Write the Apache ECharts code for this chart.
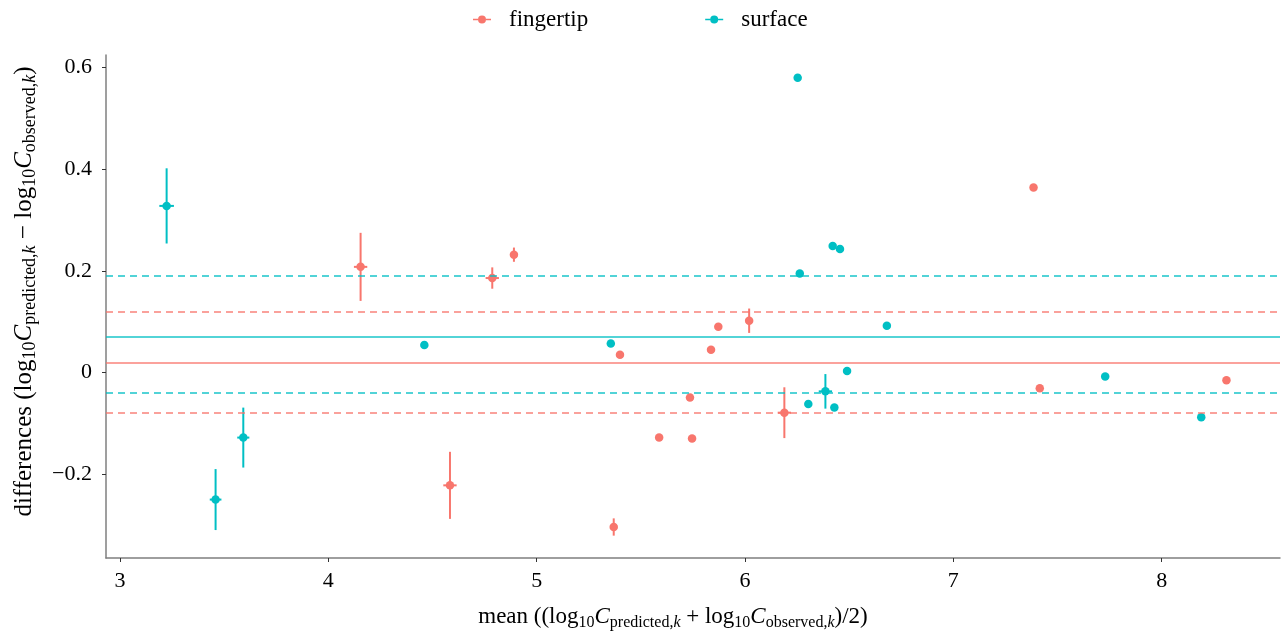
<!DOCTYPE html>
<html>
<head>
<meta charset="utf-8">
<script src="https://cdn.jsdelivr.net/npm/echarts@6/dist/echarts.min.js"></script>
<style>html,body{margin:0;padding:0;background:#fff}#c{width:1285px;height:636px}</style>
</head>
<body>
<div id="c"></div>
<script>
// ---- data ----
const fingertipX    = [4.155, 4.584, 4.787, 4.891, 5.370, 5.400, 5.588, 5.736, 5.746, 5.837, 5.872, 6.020, 6.189, 7.385, 7.415, 8.311];
const fingertipY    = [0.208, -0.222, 0.186, 0.232, -0.304, 0.035, -0.128, -0.049, -0.130, 0.045, 0.090, 0.102, -0.079, 0.364, -0.031, -0.015];
const fingertipYErr = [0.067, 0.066, 0.021, 0.014, 0.017, 0, 0, 0, 0, 0, 0, 0.024, 0.050, 0, 0, 0];
const fingertipXErr = [0.032, 0.032, 0.032, 0, 0, 0, 0, 0, 0, 0, 0, 0, 0.032, 0, 0, 0];

const surfaceX    = [3.224, 3.459, 3.592, 4.461, 5.356, 6.253, 6.263, 6.304, 6.386, 6.421, 6.429, 6.456, 6.490, 6.681, 7.729, 8.190];
const surfaceY    = [0.328, -0.250, -0.128, 0.054, 0.057, 0.580, 0.195, -0.062, -0.037, 0.249, -0.069, 0.243, 0.003, 0.092, -0.008, -0.088];
const surfaceYErr = [0.074, 0.060, 0.059, 0.006, 0, 0, 0, 0, 0.034, 0, 0, 0, 0, 0, 0, 0];
const surfaceXErr = [0.035, 0.028, 0.029, 0, 0, 0, 0, 0, 0.032, 0, 0, 0, 0, 0, 0, 0];

// mean, lower limit, upper limit of agreement
const fingertipLines = [0.020, -0.077, 0.116];
const surfaceLines   = [0.074, -0.039, 0.186];

const xTicks = [3, 4, 5, 6, 7, 8];
const yTicks = [-0.2, 0, 0.2, 0.4, 0.6];

const seriesNames = ['fingertip', 'surface'];
const colors = ['#F8766D', '#00BFC4'];

// ---- build ----
function pts(xs, ys) { return xs.map((x, i) => [x, ys[i]]); }
function errs(xs, ys, ye, xe) { return xs.map((x, i) => [x, ys[i], ye[i], xe[i]]); }

function errSeries(name, color, data) {
  return {
    name: name, type: 'custom', z: 2, silent: true,
    data: data,
    renderItem: function (params, api) {
      const x = api.value(0), y = api.value(1), ye = api.value(2), xe = api.value(3);
      const ch = [];
      if (ye > 0) {
        const a = api.coord([x, y - ye]), b = api.coord([x, y + ye]);
        ch.push({type: 'line', shape: {x1: a[0], y1: a[1], x2: b[0], y2: b[1]}, style: {stroke: color, lineWidth: 2}});
      }
      if (xe > 0) {
        const a = api.coord([x - xe, y]), b = api.coord([x + xe, y]);
        ch.push({type: 'line', shape: {x1: a[0], y1: a[1], x2: b[0], y2: b[1]}, style: {stroke: color, lineWidth: 2}});
      }
      return {type: 'group', children: ch};
    }
  };
}

function refLines(vals, color) {
  return {
    silent: true, symbol: 'none', animation: false,
    label: {show: false},
    data: vals.map((v, i) => ({
      yAxis: v,
      lineStyle: {color: color, width: 1.6, type: i === 0 ? 'solid' : [7, 5], opacity: 0.9}
    }))
  };
}

const font = 'Liberation Serif';
function richSet(main, sub, lh) {
  return {
    n: {fontFamily: font, fontSize: main, lineHeight: lh, color: '#000', verticalAlign: 'middle'},
    i: {fontFamily: font, fontSize: main, lineHeight: lh, color: '#000', fontStyle: 'italic', verticalAlign: 'middle'},
    s: {fontFamily: font, fontSize: sub, lineHeight: sub, color: '#000', verticalAlign: 'bottom'},
    si: {fontFamily: font, fontSize: sub, lineHeight: sub, color: '#000', fontStyle: 'italic', verticalAlign: 'bottom'}
  };
}

const legendIcon = 'path://M0,4.2H5V5.8H0Z M13,4.2H18V5.8H13Z M5,5a4,4 0 1,0 8,0a4,4 0 1,0 -8,0Z';

const option = {
  animation: false,
  backgroundColor: '#fff',
  grid: {left: 106, right: 5, top: 55, bottom: 78, containLabel: false},
  legend: {
    left: 468, top: 3,
    itemWidth: 18, itemHeight: 9, itemGap: 117,
    textStyle: {fontFamily: font, fontSize: 23, color: '#000', padding: [0, 0, 0, 13]},
    data: seriesNames.map((n, i) => ({name: n, icon: legendIcon, itemStyle: {color: colors[i]}}))
  },
  xAxis: {
    type: 'value', min: 2.933, max: 8.568,
    splitLine: {show: false},
    axisLine: {onZero: false, lineStyle: {color: '#7f7f7f', width: 1.5}},
    axisTick: {show: true, length: 4, lineStyle: {color: '#333'}, customValues: xTicks},
    axisLabel: {customValues: xTicks, fontFamily: font, fontSize: 22, color: '#000', margin: 12},
    name: '{n|mean ((log}{s|10}{i|C}{s|predicted,}{si|k}{n| + log}{s|10}{i|C}{s|observed,}{si|k}{n|)/2)}',
    nameLocation: 'middle', nameGap: 45,
    nameTextStyle: {rich: richSet(23, 16, 28), padding: [0, 40, 0, 0]}
  },
  yAxis: {
    type: 'value', min: -0.365, max: 0.625,
    splitLine: {show: false},
    axisLine: {onZero: false, lineStyle: {color: '#7f7f7f', width: 1.5}},
    axisTick: {show: true, length: 4, lineStyle: {color: '#333'}, customValues: yTicks},
    axisLabel: {
      customValues: yTicks, fontFamily: font, fontSize: 22, color: '#000', margin: 14,
      formatter: v => (Math.abs(v) < 1e-9 ? '0' : String(Math.round(v * 10) / 10).replace('-', '\u2212'))
    },
    name: '{n|differences (log}{s|10}{i|C}{s|predicted,}{si|k}{n| \u2212 log}{s|10}{i|C}{s|observed,}{si|k}{n|)}',
    nameLocation: 'middle', nameGap: 67, nameRotate: 90,
    nameTextStyle: {rich: richSet(25, 18, 30), padding: [0, 0, 0, 30]}
  },
  series: [
    errSeries(seriesNames[0], colors[0], errs(fingertipX, fingertipY, fingertipYErr, fingertipXErr)),
    errSeries(seriesNames[1], colors[1], errs(surfaceX, surfaceY, surfaceYErr, surfaceXErr)),
    {
      name: seriesNames[0], type: 'scatter', z: 3, symbolSize: 8.5,
      itemStyle: {color: colors[0], opacity: 1},
      data: pts(fingertipX, fingertipY),
      markLine: refLines(fingertipLines, colors[0])
    },
    {
      name: seriesNames[1], type: 'scatter', z: 3, symbolSize: 8.5,
      itemStyle: {color: colors[1], opacity: 1},
      data: pts(surfaceX, surfaceY),
      markLine: refLines(surfaceLines, colors[1])
    }
  ]
};

const chart = echarts.init(document.getElementById('c'), null, {renderer: 'canvas'});
chart.setOption(option);
</script>
</body>
</html>
